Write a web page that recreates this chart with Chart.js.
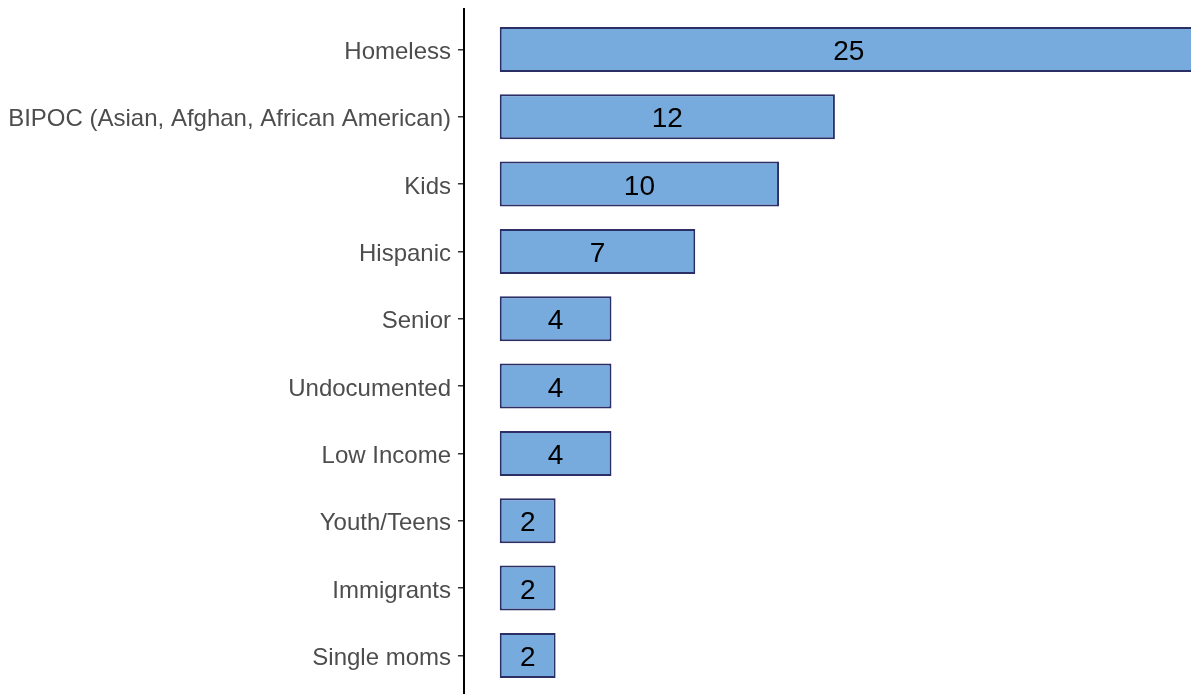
<!DOCTYPE html>
<html>
<head>
<meta charset="utf-8">
<script src="https://cdn.jsdelivr.net/npm/chart.js@4.4.1/dist/chart.umd.min.js"></script>
<style>
  html, body { margin: 0; padding: 0; background: #ffffff; }
  #wrap { width: 1191px; height: 694px; position: relative; }
</style>
</head>
<body>
<div id="wrap"><canvas id="c" width="1191" height="694"></canvas></div>
<script>
const categories = ["Homeless", "BIPOC (Asian, Afghan, African American)", "Kids", "Hispanic", "Senior", "Undocumented", "Low Income", "Youth/Teens", "Immigrants", "Single moms"];
const counts = [25, 12, 10, 7, 4, 4, 4, 2, 2, 2];

const points = counts.map((v, i) => ({ x: v, y: i }));

const barLabels = {
  id: 'barLabels',
  afterDatasetsDraw(chart) {
    const ctx = chart.ctx;
    const meta = chart.getDatasetMeta(0);
    ctx.save();
    ctx.fillStyle = '#000000';
    ctx.font = '28px "Liberation Sans", Arial, sans-serif';
    ctx.textAlign = 'center';
    ctx.textBaseline = 'middle';
    meta.data.forEach((bar, i) => {
      const xs = chart.scales.x;
      const x0 = xs.getPixelForValue(0);
      const x1 = xs.getPixelForValue(counts[i]);
      ctx.fillText(String(counts[i]), (x0 + x1) / 2, bar.y + 3);
    });
    ctx.restore();
  }
};

new Chart(document.getElementById('c'), {
  type: 'bar',
  data: {
    datasets: [{
      data: points,
      backgroundColor: '#77AADD',
      borderColor: '#2B2F66',
      borderWidth: 2,
      borderSkipped: false,
      categoryPercentage: 1,
      barPercentage: 0.668
    }]
  },
  options: {
    indexAxis: 'y',
    responsive: false,
    animation: false,
    layout: { padding: { top: 9, right: 0, bottom: 0, left: 0 } },
    plugins: { legend: { display: false }, tooltip: { enabled: false } },
    scales: {
      x: {
        type: 'linear',
        display: false,
        min: -1.28,
        max: 24.75
      },
      y: {
        type: 'linear',
        reverse: true,
        offset: false,
        min: -0.6,
        max: 9.573,
        afterBuildTicks(scale) {
          scale.ticks = categories.map((_, i) => ({ value: i }));
        },
        afterFit(scale) {
          scale.width = 464;
          scale.paddingTop = 0;
          scale.paddingBottom = 0;
        },
        ticks: {
          callback: (v) => categories[v] !== undefined ? categories[v] : '',
          color: '#4D4D4D',
          font: { family: '"Liberation Sans", Arial, sans-serif', size: 24 },
          padding: 7,
          labelOffset: 3,
          autoSkip: false
        },
        grid: {
          offset: false,
          drawOnChartArea: false,
          drawTicks: true,
          tickLength: 6,
          color: '#333333',
          lineWidth: 1.5
        },
        border: { display: true, color: '#000000', width: 2 }
      }
    }
  },
  plugins: [barLabels]
});
</script>
</body>
</html>
